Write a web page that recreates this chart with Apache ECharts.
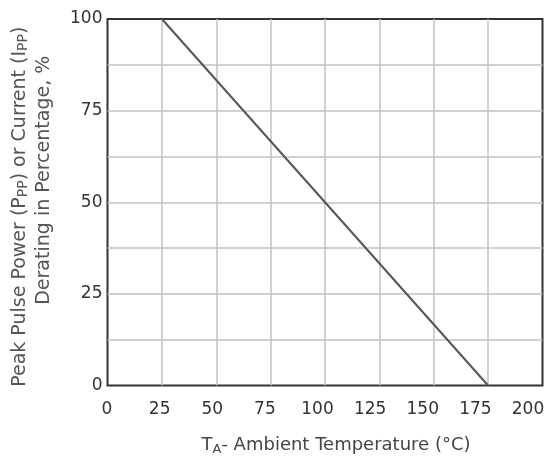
<!DOCTYPE html>
<html>
<head>
<meta charset="utf-8">
<script src="https://cdn.jsdelivr.net/npm/echarts@6/dist/echarts.min.js"></script>
<style>html,body{margin:0;padding:0;background:#fff;}#c{width:560px;height:459px;}</style>
</head>
<body>
<div id="c"></div>
<script>
// Data
var temperature = [25, 175];
var derating = [100, 0];
var xTicks = [0, 25, 50, 75, 100, 125, 150, 175, 200];
var yTicks = [0, 25, 50, 75, 100];

var points = temperature.map(function (t, i) { return [t, derating[i]]; });
var FONT = 'DejaVu Sans, Verdana, sans-serif';
var GRIDC = '#c2c2c2';

var chart = echarts.init(document.getElementById('c'), null, { renderer: 'canvas' });
chart.setOption({
  animation: false,
  backgroundColor: '#ffffff',
  grid: [
    { left: 107.5, right: 17.5, top: 19, bottom: 73.5, outerBoundsMode: 'none', containLabel: false,
      show: true, borderColor: '#333333', borderWidth: 2, backgroundColor: 'transparent' },
    { left: 107, right: 32, top: 19, bottom: 73.5, outerBoundsMode: 'none', containLabel: false, show: false }
  ],
  xAxis: [
    {
      type: 'value', gridIndex: 0, min: xTicks[0], max: xTicks[xTicks.length - 1], interval: 25,
      axisLine: { show: false }, axisTick: { show: false }, axisLabel: { show: false },
      splitLine: { show: true, showMinLine: false, showMaxLine: false, lineStyle: { color: GRIDC, width: 1.5 } },
      name: '{n|T}{s|A}{n|- Ambient Temperature (°C)}',
      nameLocation: 'middle', nameGap: 48,
      nameTextStyle: {
        padding: [0, 0, 0, 22],
        rich: {
          n: { fontFamily: FONT, fontSize: 18, color: '#444' },
          s: { fontFamily: FONT, fontSize: 13, color: '#444', padding: [10, 0, 0, 0] }
        }
      }
    },
    {
      type: 'value', gridIndex: 1, min: xTicks[0], max: xTicks[xTicks.length - 1], interval: 25,
      axisLine: { show: false }, axisTick: { show: false }, splitLine: { show: false },
      axisLabel: { show: true, margin: 16, fontFamily: FONT, fontSize: 17, color: '#333',
        formatter: function (v) { return xTicks.indexOf(v) >= 0 ? String(v) : ''; } }
    }
  ],
  yAxis: [
    {
      type: 'value', gridIndex: 0, min: yTicks[0], max: yTicks[yTicks.length - 1], interval: 25,
      axisLine: { show: false }, axisTick: { show: false },
      axisLabel: { margin: 5, fontFamily: FONT, fontSize: 17, color: '#333',
        formatter: function (v) { return yTicks.indexOf(v) >= 0 ? String(v) : ''; } },
      splitLine: { show: true, showMinLine: false, showMaxLine: false, lineStyle: { color: GRIDC, width: 1.5 } },
      minorTick: { show: false, splitNumber: 2 },
      minorSplitLine: { show: true, lineStyle: { color: GRIDC, width: 1.5 } },
      name: '{n|Peak Pulse Power (P}{s|PP}{n|) or Current (I}{s|PP}{e|)}\n{m|Derating in Percentage, %}',
      nameLocation: 'middle', nameRotate: 90, nameGap: 51,
      nameTextStyle: {
        lineHeight: 24,
        rich: {
          n: { fontFamily: FONT, fontSize: 19, color: '#555', lineHeight: 24 },
          e: { fontFamily: FONT, fontSize: 19, color: '#555', lineHeight: 24, padding: [0, 9, 0, 0] },
          s: { fontFamily: FONT, fontSize: 14, color: '#555', lineHeight: 24, padding: [6, 0, 0, 0] },
          m: { fontFamily: FONT, fontSize: 19, color: '#555', lineHeight: 24, padding: [0, 0, 0, 44] }
        }
      }
    },
    {
      type: 'value', gridIndex: 1, min: 0, max: 100, show: false
    }
  ],
  series: [
    {
      type: 'line', xAxisIndex: 0, yAxisIndex: 0, data: points,
      showSymbol: false, symbol: 'none',
      lineStyle: { color: '#555555', width: 2 }
    }
  ]
});
</script>
</body>
</html>
